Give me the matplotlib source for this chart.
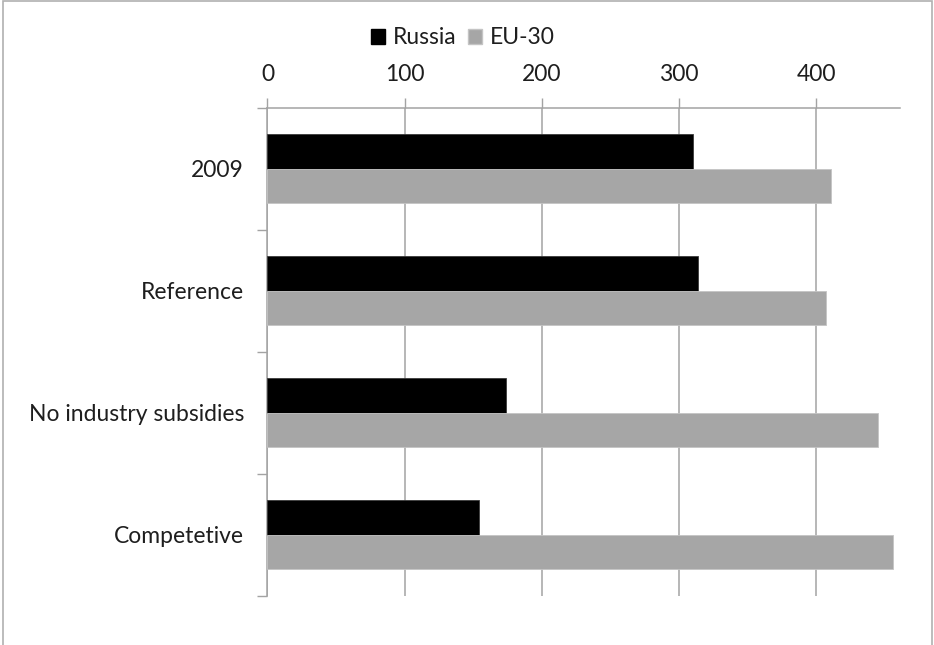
import numpy as np
import matplotlib
matplotlib.use('Agg')
import matplotlib.pyplot as plt
from matplotlib.patches import Patch, Rectangle

scenarios = ["2009", "Reference", "No industry subsidies", "Competetive"]
russia = [310, 314, 174, 154]
eu30 = [411, 407, 445, 456]
x_ticks = [0, 100, 200, 300, 400]

plt.rcParams['font.family'] = ['Lato', 'DejaVu Sans']
grid_col = '#a3a3a3'
text_col = '#1e1e1e'

fig = plt.figure(figsize=(9.34, 6.45), dpi=100)
ax = fig.add_axes([0.2864, 0.0760, 0.6772, 0.7573])

y = np.arange(len(scenarios))
h = 0.283
ax.barh(y - h / 2, russia, height=h, color='black', edgecolor='#3a3a3a',
        linewidth=0.6, zorder=3)
ax.barh(y + h / 2, eu30, height=h, color='#a6a6a6', edgecolor='#c4c4c4',
        linewidth=0.6, zorder=3)

ax.set_xlim(0, 461)
ax.set_ylim(len(scenarios) - 0.5, -0.5)

# value axis on top
ax.xaxis.tick_top()
ax.set_xticks(x_ticks)
ax.tick_params(axis='x', which='major', length=7, width=1, color=grid_col,
               pad=9, labelsize=16.5, labelcolor=text_col)
ax.grid(axis='x', color=grid_col, linewidth=1.1, zorder=0)

# categories with separator ticks between them
ax.set_yticks(y)
ax.set_yticklabels(scenarios)
ax.set_yticks(np.arange(-0.5, len(scenarios), 1.0), minor=True)
ax.tick_params(axis='y', which='major', length=0, pad=17, labelsize=16.5,
               labelcolor=text_col)
ax.tick_params(axis='y', which='minor', length=7, width=1, color=grid_col)

for s in ['right', 'bottom']:
    ax.spines[s].set_visible(False)
for s in ['top', 'left']:
    ax.spines[s].set_color(grid_col)
    ax.spines[s].set_linewidth(1.1)

handles = [Patch(facecolor='black', edgecolor='black'),
           Patch(facecolor='#a6a6a6', edgecolor='#c4c4c4')]
fig.legend(handles, ['Russia', 'EU-30'], loc='center',
           bbox_to_anchor=(463 / 934, 1 - 38 / 645), ncol=2, frameon=False,
           fontsize=16.5, handlelength=0.6, handleheight=0.6,
           handletextpad=0.35, columnspacing=0.5, labelcolor=text_col)

# thin frame around the whole chart
fig.patches.append(Rectangle((0.003, -0.01), 0.995, 1.008, fill=False,
                             edgecolor='#b0b0b0', linewidth=1.2,
                             transform=fig.transFigure, figure=fig))

fig.savefig('out.png', dpi=100)
